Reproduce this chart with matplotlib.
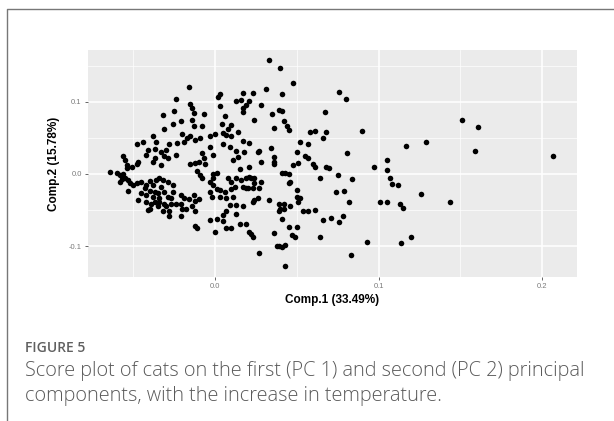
import numpy as np
import matplotlib.pyplot as plt
from matplotlib.lines import Line2D

# PCA scores (Comp.1, Comp.2)
pc1 = [
    -0.038, -0.036, -0.044, -0.048, -0.041, -0.037, -0.042, -0.056, -0.055, -0.038,
    -0.037, -0.047, -0.048, -0.051, -0.054, -0.054, -0.033, -0.064, -0.060, -0.058,
    -0.056, -0.055, -0.057, -0.058, -0.053, -0.052, -0.050, -0.048, -0.053, -0.045,
    -0.042, -0.040, -0.038, -0.036, -0.034, -0.043, -0.040, -0.037, -0.035, -0.038,
    -0.042, -0.047, -0.042, -0.039, -0.037, -0.035, -0.040, -0.041, -0.034, -0.045,
    -0.016, -0.024, -0.032, -0.025, -0.015, -0.014, 0.003, 0.002, 0.003, -0.007,
    -0.013, -0.014, -0.021, -0.026, -0.031, -0.013, -0.008, 0.006, 0.010, 0.004,
    0.008, -0.020, -0.017, -0.015, -0.012, -0.009, -0.003, 0.000, 0.005, 0.007,
    0.010, 0.014, -0.028, -0.023, -0.019, -0.033, -0.030, -0.031, -0.029, -0.024,
    -0.003, 0.005, 0.009, -0.008, -0.007, -0.001, 0.011, -0.015, -0.012, -0.010,
    -0.006, -0.011, -0.009, -0.008, -0.001, 0.001, -0.001, -0.003, 0.008, 0.010,
    -0.032, -0.033, -0.029, -0.026, -0.026, -0.031, -0.029, -0.027, -0.021, -0.019,
    -0.016, -0.013, -0.012, -0.010, -0.034, -0.031, -0.030, -0.027, -0.024, -0.021,
    -0.020, -0.018, -0.014, -0.012, -0.028, -0.032, -0.021, -0.028, -0.001, 0.001,
    0.003, 0.006, 0.010, 0.012, -0.003, -0.002, 0.003, 0.007, 0.011, 0.009,
    0.007, 0.005, -0.003, 0.001, 0.005, 0.007, 0.010, 0.000, -0.012, -0.011,
    0.033, 0.040, 0.048, 0.031, 0.041, 0.017, 0.023, 0.013, 0.016, 0.021,
    0.019, 0.017, 0.017, 0.028, 0.039, 0.041, 0.035, 0.024, 0.042, 0.044,
    0.045, 0.036, 0.058, 0.061, 0.017, 0.021, 0.052, 0.057, 0.013, 0.018,
    0.026, 0.027, 0.034, 0.050, 0.055, 0.057, 0.014, 0.036, 0.036, 0.036,
    0.028, 0.051, 0.048, 0.060, 0.061, 0.015, 0.021, 0.013, 0.016, 0.019,
    0.021, 0.022, 0.024, 0.028, 0.017, 0.019, 0.020, 0.023, 0.027, 0.024,
    0.041, 0.043, 0.045, 0.046, 0.045, 0.050, 0.050, 0.052, 0.051, 0.026,
    0.024, 0.023, 0.033, 0.039, 0.042, 0.046, 0.040, 0.042, 0.039, 0.041,
    0.017, 0.013, 0.013, 0.015, 0.019, 0.021, 0.022, 0.023, 0.036, 0.045,
    0.050, 0.047, 0.049, 0.038, 0.039, 0.041, 0.043, 0.027, 0.043, 0.054,
    0.057, 0.061,
    0.076, 0.080, 0.067, 0.068, 0.066, 0.090, 0.081, 0.068, 0.070, 0.097,
    0.064, 0.075, 0.084, 0.074, 0.079, 0.082, 0.066, 0.071, 0.078, 0.076,
    0.064, 0.093, 0.083,
    0.151, 0.161, 0.117, 0.129, 0.159, 0.207, 0.105, 0.105, 0.107, 0.108,
    0.112, 0.126, 0.101, 0.105, 0.113, 0.115, 0.144, 0.120, 0.114,
]
pc2 = [
    0.053, 0.044, 0.045, 0.042, 0.033, 0.034, 0.026, 0.025, 0.020, 0.017,
    0.022, 0.016, 0.014, 0.010, 0.013, 0.008, 0.013, 0.003, 0.001, -0.002,
    0.000, -0.005, -0.007, -0.011, -0.008, -0.012, -0.015, -0.013, -0.024, -0.011,
    -0.015, -0.010, -0.015, -0.008, -0.006, -0.020, -0.023, -0.025, -0.027, -0.032,
    -0.029, -0.036, -0.039, -0.042, -0.039, -0.044, -0.048, -0.050, -0.034, -0.027,
    0.121, 0.104, 0.082, 0.087, 0.097, 0.091, 0.111, 0.107, 0.094, 0.083,
    0.084, 0.075, 0.074, 0.069, 0.063, 0.067, 0.067, 0.080, 0.068, 0.069,
    0.062, 0.055, 0.050, 0.052, 0.047, 0.050, 0.052, 0.055, 0.057, 0.054,
    0.052, 0.058, 0.042, 0.043, 0.044, 0.031, 0.033, 0.025, 0.022, 0.027,
    0.038, 0.041, 0.038, 0.029, 0.022, 0.026, 0.019, 0.014, 0.015, 0.017,
    0.014, 0.004, -0.001, -0.006, 0.000, 0.001, -0.006, -0.011, -0.006, -0.011,
    -0.008, -0.018, -0.011, -0.015, -0.025, -0.025, -0.032, -0.033, -0.029, -0.034,
    -0.035, -0.029, -0.038, -0.035, -0.039, -0.041, -0.045, -0.042, -0.041, -0.042,
    -0.048, -0.049, -0.045, -0.051, -0.052, -0.052, -0.059, -0.059, -0.015, -0.021,
    -0.022, -0.025, -0.021, -0.018, -0.025, -0.032, -0.032, -0.034, -0.032, -0.043,
    -0.052, -0.057, -0.064, -0.063, -0.065, -0.075, -0.075, -0.081, -0.072, -0.075,
    0.158, 0.147, 0.126, 0.118, 0.111, 0.113, 0.112, 0.101, 0.103, 0.101,
    0.096, 0.091, 0.086, 0.096, 0.089, 0.087, 0.083, 0.075, 0.074, 0.067,
    0.061, 0.064, 0.058, 0.059, 0.046, 0.043, 0.045, 0.041, 0.032, 0.031,
    0.030, 0.032, 0.036, 0.030, 0.025, 0.022, 0.023, 0.024, 0.017, 0.014,
    0.016, 0.015, 0.012, 0.014, 0.009, 0.007, 0.009, -0.006, -0.008, -0.005,
    -0.004, -0.006, -0.005, -0.011, -0.018, -0.020, -0.019, -0.020, -0.020, -0.012,
    0.002, 0.001, 0.000, -0.011, -0.013, -0.022, -0.032, -0.034, -0.039, -0.033,
    -0.036, -0.039, -0.036, -0.042, -0.041, -0.044, -0.048, -0.049, -0.052, -0.062,
    -0.045, -0.043, -0.055, -0.069, -0.069, -0.080, -0.084, -0.087, -0.082, -0.073,
    -0.073, -0.085, -0.087, -0.100, -0.100, -0.101, -0.098, -0.109, -0.128, -0.051,
    -0.051, -0.050,
    0.114, 0.104, 0.086, 0.058, 0.050, 0.060, 0.029, 0.009, 0.008, 0.010,
    -0.006, -0.002, -0.007, -0.025, -0.023, -0.039, -0.064, -0.061, -0.058, -0.067,
    -0.087, -0.095, -0.113,
    0.075, 0.065, 0.039, 0.044, 0.032, 0.025, 0.019, 0.006, -0.005, -0.014,
    -0.016, -0.028, -0.039, -0.039, -0.041, -0.047, -0.039, -0.088, -0.096,
]

xticks = [0.0, 0.1, 0.2]
xtick_labels = ["0.0", "0.1", "0.2"]
yticks = [-0.1, 0.0, 0.1]
ytick_labels = ["-0.1", "0.0", "0.1"]
xlabel = "Comp.1 (33.49%)"
ylabel = "Comp.2 (15.78%)"
fig_label = "FIGURE 5"
caption = ["Score plot of cats on the first (PC 1) and second (PC 2) principal",
           "components, with the increase in temperature."]

plt.rcParams['font.family'] = ['Liberation Sans', 'DejaVu Sans']

fig = plt.figure(figsize=(6.14, 4.21), dpi=100)
ax = fig.add_axes([0.1433, 0.342, 0.7964, 0.5392])

ax.set_facecolor("#ebebeb")
ax.set_xlim(-0.0777, 0.2214)
ax.set_ylim(-0.143, 0.172)
ax.set_xticks(xticks)
ax.set_xticklabels(xtick_labels)
ax.set_yticks(yticks)
ax.set_yticklabels(ytick_labels)
ax.set_xticks([-0.05, 0.05, 0.15], minor=True)
ax.set_yticks([-0.05, 0.05, 0.15], minor=True)
ax.grid(which="major", color="white", lw=1.1)
ax.grid(which="minor", color="white", lw=0.5)
ax.set_axisbelow(True)
for s in ax.spines.values():
    s.set_visible(False)
ax.tick_params(which="major", length=2.5, width=0.7, color="#666666",
               labelsize=5.5, labelcolor="#7a7a7a", pad=2)
ax.tick_params(which="minor", length=0)

ax.scatter(pc1, pc2, s=16, color="black", linewidths=0)

ax.set_xlabel(xlabel, fontsize=8.5, fontweight="bold", labelpad=3)
ax.set_ylabel(ylabel, fontsize=8.5, fontweight="bold", labelpad=6)

# card frame (left and top edges only are visible)
fig.add_artist(Line2D([7/614, 7/614, 1.0], [0.0, 1 - 9/421, 1 - 9/421],
                      transform=fig.transFigure, color="#777777", lw=1.0))

fig.text(25/614, 1 - 348/421, fig_label, fontsize=10, color="#606060",
         family="Open Sans", fontweight="semibold", va="center")
fig.text(25/614, 1 - 371/421, caption[0], fontsize=14.3, color="#5a5a5a",
         family="Open Sans", fontweight="light", va="center")
fig.text(25/614, 1 - 396/421, caption[1], fontsize=14.3, color="#5a5a5a",
         family="Open Sans", fontweight="light", va="center")

fig.savefig("out.png", dpi=100)
